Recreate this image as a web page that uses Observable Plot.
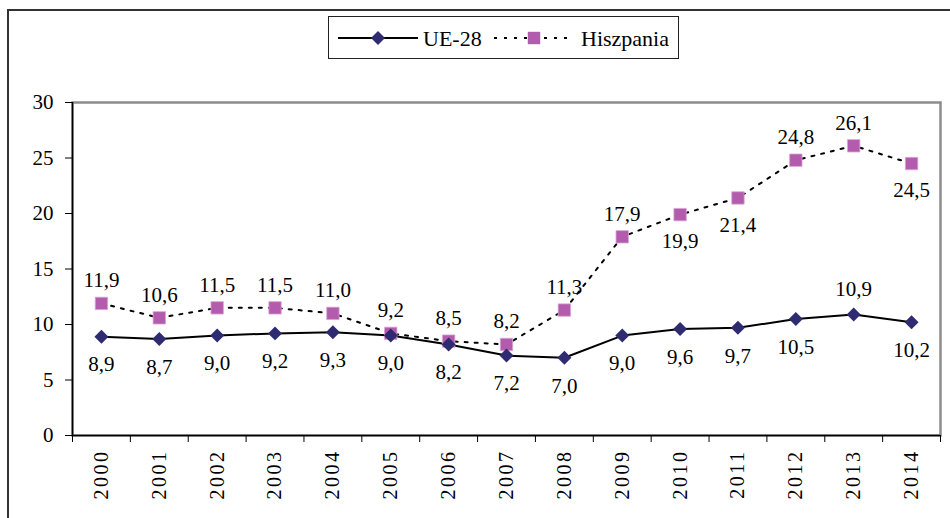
<!DOCTYPE html>
<html><head><meta charset="utf-8">
<script src="https://cdn.jsdelivr.net/npm/d3@7"></script>
<script src="https://cdn.jsdelivr.net/npm/@observablehq/plot@0.6"></script>
<style>
body{margin:0;background:#fff;}
#wrap{position:relative;width:950px;height:518px;overflow:hidden;font-family:"Liberation Serif","Times New Roman",serif;}
#frame{position:absolute;left:7px;top:9px;width:980px;height:580px;border:2px solid #333;}
#legend{position:absolute;left:328px;top:16px;width:349px;height:41px;border:1.5px solid #222;background:#fff;}
#legend svg{display:block;}
#chart{position:absolute;left:0;top:0;}
</style></head>
<body>
<div id="wrap">
  <div id="frame"></div>
  <div id="chart"></div>
  <div id="legend"></div>
</div>
<script>
const years = [2000, 2001, 2002, 2003, 2004, 2005, 2006, 2007, 2008, 2009, 2010, 2011, 2012, 2013, 2014];
const ue28 = [8.9, 8.7, 9.0, 9.2, 9.3, 9.0, 8.2, 7.2, 7.0, 9.0, 9.6, 9.7, 10.5, 10.9, 10.2];
const hiszpania = [11.9, 10.6, 11.5, 11.5, 11.0, 9.2, 8.5, 8.2, 11.3, 17.9, 19.9, 21.4, 24.8, 26.1, 24.5];
const yTicks = [0, 5, 10, 15, 20, 25, 30];
const seriesNames = ["UE-28", "Hiszpania"];
const ueLabelsAbove = [2013];
const hiszLabelsBelow = [2010, 2011, 2014];

const FONT = '"Liberation Serif","Times New Roman",serif';
const UE_COLOR = "#2E2B70";
const ES_COLOR = "#B35BAC";
const fmt = d => d.toFixed(1).replace(".", ",");

const ueData = years.map((y, i) => ({year: y, value: ue28[i]}));
const esData = years.map((y, i) => ({year: y, value: hiszpania[i]}));
const edges = years.map(y => y - 0.5).concat([years[years.length - 1] + 0.5]);

const chart = Plot.plot({
  width: 950,
  height: 518,
  marginLeft: 72,
  marginRight: 10,
  marginTop: 102,
  marginBottom: 83,
  x: {type: "linear", domain: [edges[0], edges[edges.length - 1]], axis: null},
  y: {domain: [0, 30], axis: null},
  style: {fontFamily: FONT, fontSize: "21px", color: "#000", background: "transparent", overflow: "visible"},
  marks: [
    Plot.frame({stroke: "#8c8c8c", strokeWidth: 2.5}),
    Plot.ruleY([0], {stroke: "#000", strokeWidth: 1.5}),
    Plot.ruleX([edges[0]], {stroke: "#000", strokeWidth: 1.5}),
    Plot.axisY({ticks: yTicks, tickSize: 7, tickPadding: 12, fontSize: 21, label: null, stroke: "#000"}),
    Plot.axisX({ticks: edges, tickSize: 7, tickFormat: () => "", label: null, stroke: "#000"}),
    Plot.axisX({ticks: years, tickSize: 0, tickPadding: 14, tickRotate: -90, tickFormat: d => String(d), fontSize: 20, label: null}),
    Plot.line(esData, {x: "year", y: "value", stroke: "#000", strokeWidth: 2, strokeDasharray: "3,7"}),
    Plot.line(ueData, {x: "year", y: "value", stroke: "#000", strokeWidth: 2}),
    Plot.dot(esData, {x: "year", y: "value", symbol: "square", r: 7, fill: ES_COLOR, stroke: "#d9a6d4", strokeWidth: 0.8}),
    Plot.dot(ueData, {x: "year", y: "value", symbol: "diamond2", r: 6.3, fill: UE_COLOR}),
    Plot.text(ueData.filter(d => !ueLabelsAbove.includes(d.year)), {x: "year", y: "value", text: d => fmt(d.value), dy: 28, fontSize: 21, fill: "#000"}),
    Plot.text(ueData.filter(d => ueLabelsAbove.includes(d.year)), {x: "year", y: "value", text: d => fmt(d.value), dy: -25, fontSize: 21, fill: "#000"}),
    Plot.text(esData.filter(d => !hiszLabelsBelow.includes(d.year)), {x: "year", y: "value", text: d => fmt(d.value), dy: -23, fontSize: 21, fill: "#000"}),
    Plot.text(esData.filter(d => hiszLabelsBelow.includes(d.year)), {x: "year", y: "value", text: d => fmt(d.value), dy: 27, fontSize: 21, fill: "#000"})
  ]
});
document.getElementById("chart").appendChild(chart);
// spaced-out rotated year labels, as in the reference
d3.select(chart).selectAll("text")
  .filter(function() { return /^\d{4}$/.test(this.textContent.trim()); })
  .attr("letter-spacing", "2.5px")
  .style("letter-spacing", "2.5px");

// Legend (HTML/SVG, outside the plot)
const lg = d3.select("#legend").append("svg").attr("width", 349).attr("height", 41)
  .style("font-family", FONT);
// UE-28
lg.append("line").attr("x1", 9).attr("x2", 89).attr("y1", 21).attr("y2", 21).attr("stroke", "#000").attr("stroke-width", 2);
lg.append("path").attr("d", d3.symbol(d3.symbolDiamond2, Math.PI * 6.3 * 6.3)()).attr("transform", "translate(49,21)").attr("fill", UE_COLOR);
lg.append("text").attr("x", 94).attr("y", 21).attr("dy", "0.35em").attr("font-size", 22).text(seriesNames[0]);
// Hiszpania
lg.append("line").attr("x1", 165).attr("x2", 240).attr("y1", 21).attr("y2", 21).attr("stroke", "#000").attr("stroke-width", 2).attr("stroke-dasharray", "3,7");
lg.append("path").attr("d", d3.symbol(d3.symbolSquare, Math.PI * 7 * 7)()).attr("transform", "translate(205,21)").attr("fill", ES_COLOR);
lg.append("text").attr("x", 252).attr("y", 21).attr("dy", "0.35em").attr("font-size", 22).text(seriesNames[1]);
</script>
</body></html>
